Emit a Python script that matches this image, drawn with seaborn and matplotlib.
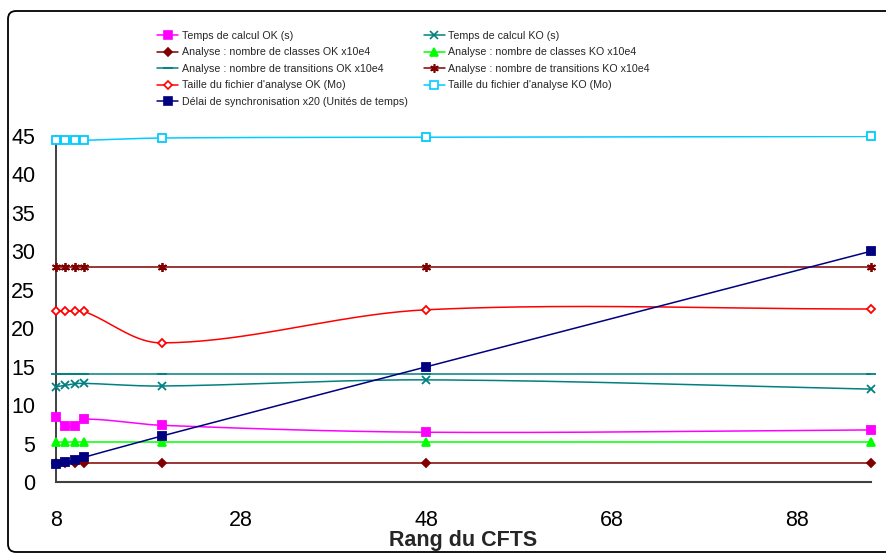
import numpy as np
import matplotlib
matplotlib.use("Agg")
import matplotlib.pyplot as plt
import seaborn as sns
from matplotlib.lines import Line2D
from matplotlib.patches import FancyBboxPatch

# Rang du CFTS
rang = [8, 9, 10, 11, 19.4, 48, 96]

calcul_ok = [8.5, 7.3, 7.3, 8.2, 7.4, 6.5, 6.8]
calcul_ko = [12.4, 12.6, 12.8, 12.85, 12.5, 13.3, 12.1]
classes_ok = [2.55, 2.55, 2.55, 2.55, 2.55, 2.55, 2.55]
classes_ko = [5.2, 5.2, 5.2, 5.2, 5.2, 5.2, 5.2]
transitions_ok = [14.0, 14.0, 14.0, 14.0, 14.0, 14.0, 14.0]
transitions_ko = [28.0, 28.0, 28.0, 28.0, 28.0, 28.0, 28.0]
taille_ok = [22.2, 22.2, 22.2, 22.2, 18.1, 22.4, 22.5]
taille_ko = [44.4, 44.4, 44.4, 44.4, 44.7, 44.8, 44.9]
delai = [2.35, 2.6, 2.9, 3.25, 6.0, 15.0, 30.0]

x_ticks = [8, 28, 48, 68, 88]
y_ticks = [0, 5, 10, 15, 20, 25, 30, 35, 40, 45]

# (label, values, color, marker, face color, marker size)
series = [
    ("Temps de calcul OK (s)", calcul_ok, "#FF00FF", "s", "#FF00FF", 5.5),
    ("Temps de calcul KO (s)", calcul_ko, "#008080", "x", "#008080", 5.5),
    ("Analyse : nombre de classes OK x10e4", classes_ok, "#800000", "D", "#800000", 4.2),
    ("Analyse : nombre de classes KO x10e4", classes_ko, "#00FF00", "^", "#00FF00", 5.5),
    ("Analyse : nombre de transitions OK x10e4", transitions_ok, "#008080", "_", "#008080", 7),
    ("Analyse : nombre de transitions KO x10e4", transitions_ko, "#800000", (6, 2, 0), "#800000", 6.5),
    ("Taille du fichier d'analyse OK (Mo)", taille_ok, "#FF0000", "D", "white", 4.2),
    ("Taille du fichier d'analyse KO (Mo)", taille_ko, "#00CCFF", "s", "white", 5.5),
    ("Délai de synchronisation x20 (Unités de temps)", delai, "#000080", "s", "#000080", 5.5),
]

# pixel scale used for the smoothing (screen space like the original tool)
XPX, YPX = 9.265, 7.7


def smooth_curve(xs, ys, n=40):
    P = np.column_stack([np.asarray(xs, float) * XPX, np.asarray(ys, float) * YPX])
    out = []
    for i in range(len(P) - 1):
        p0, p1, p2 = P[max(i - 1, 0)], P[i], P[i + 1]
        p3 = P[min(i + 2, len(P) - 1)]
        L = np.linalg.norm(p2 - p1) / 3
        d1 = (p2 - p0) / np.linalg.norm(p2 - p0)
        d2 = (p3 - p1) / np.linalg.norm(p3 - p1)
        c1 = p1 + L * d1
        c2 = p2 - L * d2
        t = np.linspace(0, 1, n)[:, None]
        seg = (1 - t) ** 3 * p1 + 3 * (1 - t) ** 2 * t * c1 + 3 * (1 - t) * t ** 2 * c2 + t ** 3 * p2
        out.append(seg if i == 0 else seg[1:])
    s = np.vstack(out)
    return s[:, 0] / XPX, s[:, 1] / YPX


sns.set_theme(style="white")
plt.rcParams['font.family'] = ['Liberation Sans', 'DejaVu Sans']

fig = plt.figure(figsize=(8.86, 5.54), dpi=100)
ax = fig.add_axes([56 / 886, 1 - 482.3 / 554, 815 / 886, 346.6 / 554])

# rounded chart frame
frame = FancyBboxPatch((0.08, 0.02), 9.0, 5.41, boxstyle="round,pad=0,rounding_size=0.08",
                       transform=fig.dpi_scale_trans, fill=False, edgecolor="black", lw=1.3,
                       clip_on=False)
fig.patches.append(frame)

handles = []
for label, vals, color, marker, face, ms in series:
    sx, sy = smooth_curve(rang, vals)
    sns.lineplot(x=sx, y=sy, sort=False, estimator=None, color=color, lw=1.1, ax=ax)
    ax.plot(rang, vals, linestyle="none", marker=marker, color=color, mfc=face, mec=color,
            ms=ms, mew=1.3, clip_on=False, zorder=3)
    handles.append(Line2D([], [], color=color, lw=1.1, marker=marker, mfc=face, mec=color,
                          ms=ms * 0.95, mew=1.2, label=label))

ax.set_xlim(8, 96)
ax.set_ylim(0, 45)
ax.set_xticks(x_ticks)
ax.set_yticks(y_ticks)
ax.tick_params(axis="both", labelsize=15.5, colors="black", length=6, width=1)
ax.tick_params(axis="x", pad=14)
ax.tick_params(axis="y", pad=9)
sns.despine(ax=ax)
ax.spines["left"].set_color("#202020")
ax.spines["bottom"].set_color("#404040")
ax.spines["left"].set_linewidth(1.2)
ax.spines["bottom"].set_linewidth(1.5)
ax.set_xlabel("Rang du CFTS", fontsize=15.5, fontweight="bold", labelpad=-1)
ax.set_ylabel("")

# legend: OK series in first column, KO series in second
order = [0, 2, 4, 6, 8, 1, 3, 5, 7]
fig.legend([handles[i] for i in order], [handles[i].get_label() for i in order],
           loc="upper left", bbox_to_anchor=(157 / 886, 1 - 31 / 554), ncol=2,
           frameon=False, fontsize=7.7, handlelength=2.0, handletextpad=0.3,
           labelspacing=0.6, columnspacing=1.5, borderpad=0, borderaxespad=0)

fig.savefig("out.png", dpi=100)
